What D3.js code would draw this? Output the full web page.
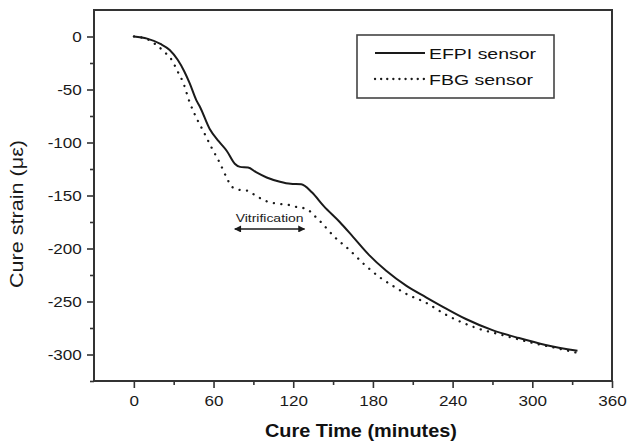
<!DOCTYPE html>
<html>
<head>
<meta charset="utf-8">
<script src="https://cdn.jsdelivr.net/npm/d3@7"></script>
<style>
  html, body { margin: 0; padding: 0; background: #fff; }
  svg { display: block; font-family: "Liberation Sans", Arial, sans-serif; }
</style>
</head>
<body>
<svg id="chart" width="628" height="444"></svg>
<script>
// ---- data ----
const efpiTime   = [0, 10, 20, 27, 33, 38, 42, 47, 50, 57, 64, 70, 76, 80, 86, 92, 100, 110, 118, 126, 134, 143, 155, 165, 177, 190, 205, 220, 232, 250, 270, 290, 310, 334];
const efpiStrain = [0, -2, -7, -12.7, -22, -33, -44, -60, -67, -87, -99, -108, -120, -123, -123.5, -128, -133, -137, -139, -139.5, -147, -160, -175, -189, -206, -221, -235, -246, -254.5, -266.5, -277, -284.5, -291, -296.5];

const fbgTime   = [0, 10, 17, 23, 28.5, 33, 37, 42, 48, 53, 58.6, 64.6, 70, 74, 81, 86, 91, 100, 110, 117, 123, 130, 135, 140, 151, 162, 173.5, 185, 196, 207, 219, 235, 258, 277, 300, 322, 334];
const fbgStrain = [0, -2.5, -8, -14.6, -22, -33, -43, -62, -79, -91, -105, -119, -133.5, -142, -145, -145.5, -149.5, -155.5, -158, -159, -161, -162.5, -168, -174, -189, -201, -215, -227, -236, -244, -250.5, -262.5, -275, -281.5, -289, -295, -298.5];

const seriesNames = ["EFPI sensor", "FBG sensor"];
const xTicks = [0, 60, 120, 180, 240, 300, 360];
const xMinorTicks = [30, 90, 150, 210, 270, 330];
const yTicks = [0, -50, -100, -150, -200, -250, -300];
const yMinorTicks = [-25, -75, -125, -175, -225, -275, -325];
const xDomain = [-30, 360];
const yDomain = [-325, 25];
const xTitle = "Cure Time (minutes)";
const yTitle = "Cure strain (\u03bc\u03b5)";
const annotationText = "Vitrification";
const annotationRange = [76, 128.5];
const annotationLevel = -181.6;

// ---- layout ----
const svg = d3.select("#chart");
const L = 94, R = 612, T = 10, B = 381;
const x = d3.scaleLinear().domain(xDomain).range([L, R]);
const y = d3.scaleLinear().domain(yDomain).range([B, T]);
const ink = "#1a1a1a";
const axisInk = "#333";

// frame
svg.append("rect")
  .attr("x", L).attr("y", T).attr("width", R - L).attr("height", B - T)
  .attr("fill", "none").attr("stroke", axisInk).attr("stroke-width", 2);

// axes
const fmt = d => String(d);
const gx = svg.append("g").attr("transform", `translate(0,${B})`)
  .call(d3.axisBottom(x).tickValues(xTicks).tickSize(7).tickFormat(fmt));
const gxm = svg.append("g").attr("transform", `translate(0,${B})`)
  .call(d3.axisBottom(x).tickValues(xMinorTicks).tickSize(4).tickFormat(""));
const gy = svg.append("g").attr("transform", `translate(${L},0)`)
  .call(d3.axisLeft(y).tickValues(yTicks).tickSize(7).tickFormat(fmt));
const gym = svg.append("g").attr("transform", `translate(${L},0)`)
  .call(d3.axisLeft(y).tickValues(yMinorTicks).tickSize(4).tickFormat(""));

[gx, gxm, gy, gym].forEach(g => {
  g.select(".domain").remove();
  g.selectAll(".tick line").attr("stroke", axisInk).attr("stroke-width", 1.6);
});
gx.selectAll(".tick text")
  .attr("y", 25).attr("dy", 0)
  .attr("font-size", 14).attr("fill", "#1a1a1a")
  .attr("transform", "scale(1.22,1)");
gy.selectAll(".tick text")
  .attr("x", -10).attr("dy", "0.36em")
  .attr("font-size", 14).attr("fill", "#1a1a1a")
  .attr("transform", "scale(1.22,1)");

// titles
svg.append("text")
  .attr("x", 265).attr("y", 436.5)
  .attr("font-size", 19).attr("font-weight", "bold").attr("fill", "#111")
  .attr("textLength", 192).attr("lengthAdjust", "spacingAndGlyphs")
  .text(xTitle);
svg.append("text")
  .attr("transform", "translate(23,214) rotate(-90)")
  .attr("text-anchor", "middle")
  .attr("font-size", 19).attr("fill", "#1a1a1a")
  .attr("textLength", 148).attr("lengthAdjust", "spacingAndGlyphs")
  .text(yTitle);

// lines
const efpi = efpiTime.map((t, i) => [t, efpiStrain[i]]);
const fbg = fbgTime.map((t, i) => [t, fbgStrain[i]]);
const line = d3.line().x(d => x(d[0])).y(d => y(d[1])).curve(d3.curveMonotoneX);

svg.append("path").datum(fbg).attr("d", line)
  .attr("fill", "none").attr("stroke", ink).attr("stroke-width", 2.3)
  .attr("stroke-linecap", "round").attr("stroke-dasharray", "0.1 7.4");
svg.append("path").datum(efpi).attr("d", line)
  .attr("fill", "none").attr("stroke", ink).attr("stroke-width", 2);

// annotation
const defs = svg.append("defs");
defs.append("marker").attr("id", "ah").attr("viewBox", "0 0 10 10")
  .attr("refX", 9).attr("refY", 5).attr("markerWidth", 9).attr("markerHeight", 7)
  .attr("markerUnits", "userSpaceOnUse").attr("orient", "auto-start-reverse")
  .append("path").attr("d", "M0,0 L10,5 L0,10 Z").attr("fill", ink);
svg.append("line")
  .attr("x1", x(annotationRange[0])).attr("x2", x(annotationRange[1]))
  .attr("y1", y(annotationLevel)).attr("y2", y(annotationLevel))
  .attr("stroke", ink).attr("stroke-width", 1.5)
  .attr("marker-start", "url(#ah)").attr("marker-end", "url(#ah)");
svg.append("text")
  .attr("x", x((annotationRange[0] + annotationRange[1]) / 2) - 34)
  .attr("y", y(annotationLevel) - 7)
  .attr("font-size", 11).attr("fill", "#222")
  .attr("textLength", 68).attr("lengthAdjust", "spacingAndGlyphs")
  .text(annotationText);

// legend
const lg = svg.append("g");
lg.append("rect").attr("x", 357).attr("y", 35).attr("width", 197).attr("height", 63)
  .attr("fill", "#fff").attr("stroke", "#444").attr("stroke-width", 1.6);
const legendRows = [
  { name: seriesNames[0], dash: null, w: 2, ly: 53, tl: 107 },
  { name: seriesNames[1], dash: "0.1 6", w: 2.3, ly: 79, tl: 104 }
];
legendRows.forEach(r => {
  const l = lg.append("line").attr("x1", 375).attr("x2", 425)
    .attr("y1", r.ly).attr("y2", r.ly)
    .attr("stroke", ink).attr("stroke-width", r.w);
  if (r.dash) l.attr("stroke-dasharray", r.dash).attr("stroke-linecap", "round");
  lg.append("text").attr("x", 429).attr("y", r.ly + 5.5)
    .attr("font-size", 15).attr("fill", "#111")
    .attr("textLength", r.tl).attr("lengthAdjust", "spacingAndGlyphs")
    .text(r.name);
});
</script>
</body>
</html>
